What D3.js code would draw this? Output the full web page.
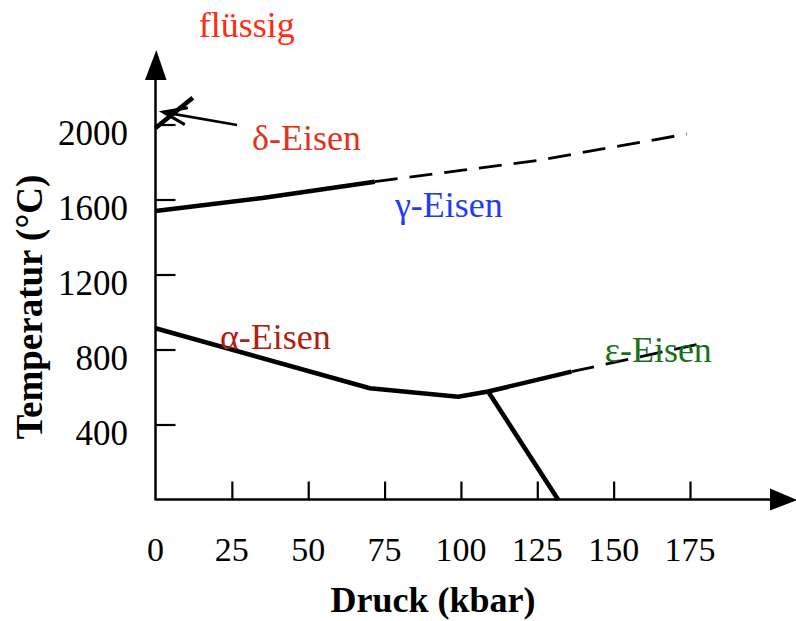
<!DOCTYPE html>
<html>
<head>
<meta charset="utf-8">
<script src="https://cdn.jsdelivr.net/npm/d3@7/dist/d3.min.js"></script>
<style>
  html, body { margin: 0; padding: 0; background: #fff; }
  svg { display: block; }
  text { font-family: "Liberation Serif", "Times New Roman", serif; }
</style>
</head>
<body>
<svg id="chart" width="796" height="621"></svg>
<script>
// Phase diagram of iron: pressure (kbar) vs temperature (°C)
const pressureTicks = [0, 25, 50, 75, 100, 125, 150, 175];
const tempTicks = [400, 800, 1200, 1600, 2000];

// Phase boundaries, each point is {p: kbar, t: °C}
const alphaGamma = [
  { p: 0, t: 913 }, { p: 70.2, t: 593 }, { p: 99.1, t: 548 }, { p: 108.9, t: 576 }
];
const epsilonGamma = [{ p: 108.9, t: 576 }, { p: 136.2, t: 682 }];
const epsilonGammaDashed = [{ p: 136.2, t: 682 }, { p: 179.9, t: 836 }];
const alphaEpsilon = [{ p: 108.9, t: 576 }, { p: 131.8, t: 0 }];
const gammaLiquid = [{ p: 0, t: 1539 }, { p: 35, t: 1608 }, { p: 71.8, t: 1695 }];
const gammaLiquidDashed = [
  { p: 71.8, t: 1695 }, { p: 100, t: 1755 }, { p: 125, t: 1808 },
  { p: 150, t: 1880 }, { p: 173.9, t: 1949 }
];
const deltaBoundary = [{ p: 0, t: 1981 }, { p: 12.2, t: 2143 }];

// Phase names
const phaseLabels = [
  { name: "flüssig", p: 14.2, t: 2467, color: "#ff2a12" },
  { name: "δ-Eisen", p: 31.6, t: 1864, color: "#e2311c" },
  { name: "γ-Eisen", p: 78.4, t: 1507, color: "#1f3cf2" },
  { name: "α-Eisen", p: 21.1, t: 803, color: "#b1200f" },
  { name: "ε-Eisen", p: 147.1, t: 735, color: "#17731b" }
];
// Pointer from the δ label to the δ field
const deltaPointer = { from: { p: 26.7, t: 1997 }, to: { p: 2.5, t: 2066 } };

const svg = d3.select("#chart");

const x = d3.scaleLinear().domain([0, 175]).range([155.5, 690]);
const y = d3.scaleLinear().domain([0, 2000]).range([499.5, 124.5]);

const line = d3.line().x(d => x(d.p)).y(d => y(d.t));

// Axes with inward ticks
const xAxis = d3.axisTop(x).tickValues(pressureTicks.slice(1)).tickSize(18).tickFormat("");
const yAxis = d3.axisRight(y).tickValues(tempTicks).tickSize(20).tickFormat("");

const gx = svg.append("g").attr("transform", `translate(0,${y(0)})`).call(xAxis);
const gy = svg.append("g").attr("transform", `translate(${x(0)},0)`).call(yAxis);
[gx, gy].forEach(g => {
  g.select(".domain").remove();
  g.selectAll(".tick line").attr("stroke", "#000").attr("stroke-width", 2.2);
});

// Axis lines with filled arrowheads
svg.append("line")
  .attr("x1", x(0)).attr("y1", y(0)).attr("x2", 772).attr("y2", y(0))
  .attr("stroke", "#000").attr("stroke-width", 2.5);
svg.append("path")
  .attr("d", `M770,${y(0) - 11}L797,${y(0) + 0.5}L770,${y(0) + 11}Z`)
  .attr("fill", "#000");
svg.append("line")
  .attr("x1", x(0)).attr("y1", y(0) + 1).attr("x2", x(0)).attr("y2", 78)
  .attr("stroke", "#000").attr("stroke-width", 2.5);
svg.append("path")
  .attr("d", `M${x(0) - 10.5},80L${x(0) + 0.8},50L${x(0) + 11},80Z`)
  .attr("fill", "#000");

// Tick labels
svg.append("g").selectAll("text").data(pressureTicks).join("text")
  .attr("x", d => x(d)).attr("y", 561)
  .attr("text-anchor", "middle").attr("font-size", 34).attr("fill", "#000")
  .text(d => d);
svg.append("g").selectAll("text").data(tempTicks).join("text")
  .attr("x", 128).attr("y", d => y(d) + 20)
  .attr("text-anchor", "end").attr("font-size", 35).attr("fill", "#000")
  .text(d => d);

// Axis titles
svg.append("text")
  .attr("x", 433).attr("y", 612).attr("text-anchor", "middle")
  .attr("font-size", 36).attr("font-weight", "bold").text("Druck (kbar)");
svg.append("text")
  .attr("transform", "translate(42,307) rotate(-90)").attr("text-anchor", "middle")
  .attr("font-size", 37).attr("font-weight", "bold").text("Temperatur (°C)");

// Phase boundaries
const solid = [alphaGamma, epsilonGamma, alphaEpsilon, gammaLiquid, deltaBoundary];
svg.append("g").selectAll("path").data(solid).join("path")
  .attr("d", line).attr("fill", "none").attr("stroke", "#000")
  .attr("stroke-width", 4.6).attr("stroke-linejoin", "round");

const dashed = [gammaLiquidDashed, epsilonGammaDashed];
svg.append("g").selectAll("path").data(dashed).join("path")
  .attr("d", line).attr("fill", "none").attr("stroke", "#000")
  .attr("stroke-width", 2.8).attr("stroke-dasharray", "23 12");

// Phase labels
svg.append("g").selectAll("text").data(phaseLabels).join("text")
  .attr("x", d => x(d.p)).attr("y", d => y(d.t))
  .attr("font-size", 36).attr("fill", d => d.color)
  .text(d => d.name);

// Pointer arrow with a narrow filled head
const tip = [x(deltaPointer.to.p), y(deltaPointer.to.t)];
const tail = [x(deltaPointer.from.p), y(deltaPointer.from.t)];
const ang = Math.atan2(tail[1] - tip[1], tail[0] - tip[0]);
const barb = 25, spread = 20 * Math.PI / 180;
svg.append("line")
  .attr("x1", tail[0]).attr("y1", tail[1]).attr("x2", tip[0]).attr("y2", tip[1])
  .attr("stroke", "#000").attr("stroke-width", 2.6);
svg.append("path")
  .attr("d", `M${tip[0] + barb * Math.cos(ang - spread)},${tip[1] + barb * Math.sin(ang - spread)}` +
             `L${tip[0]},${tip[1]}` +
             `L${tip[0] + barb * Math.cos(ang + spread)},${tip[1] + barb * Math.sin(ang + spread)}`)
  .attr("fill", "none").attr("stroke", "#000").attr("stroke-width", 3);
</script>
</body>
</html>
